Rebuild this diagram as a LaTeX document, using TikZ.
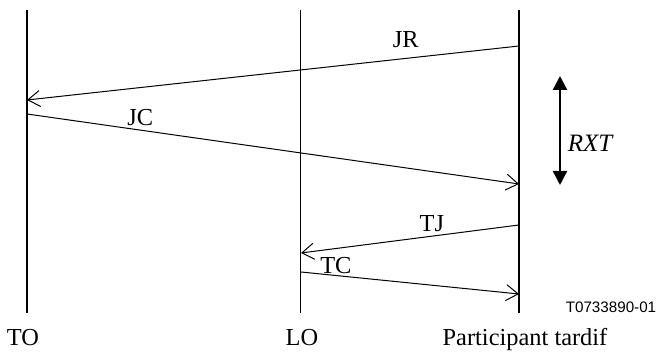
\documentclass[tikz,border=0pt]{standalone}
\usepackage{fontspec}
\setmainfont{Liberation Serif}
\setsansfont{Liberation Sans}
\usetikzlibrary{arrows.meta,positioning,calc}

\begin{document}
\begin{tikzpicture}[
            x=0.5pt, y=-0.5pt,
            every node/.style={font=\fontsize{12.2}{14}\selectfont, inner sep=1pt},
            party/.style={line width=1.3pt},
            msg/.style={line width=0.5pt, -{Straight Barb[length=6pt, width=8pt, line width=0.5pt]}},
            lbl/.style={above, inner sep=2pt},
        ]
            \useasboundingbox (0,0) rectangle (661,356);
            % time lines
            \coordinate (to-top) at (27,10);   \coordinate (to-bot) at (27,313);
            \coordinate (lo-top) at (301,10);  \coordinate (lo-bot) at (301,313);
            \coordinate (pt-top) at (519,10);  \coordinate (pt-bot) at (519,313);
            \draw[party] (to-top) -- (to-bot);
            \draw[line width=0.5pt] (lo-top) -- (lo-bot);
            \draw[party] (pt-top) -- (pt-bot);
            \node[anchor=base] (to) at (23,346) {TO};
            \node[anchor=base] (lo) at (302,346) {LO};
            \node[anchor=base] (pt) at (525,346) {Participant tardif};
            \node[font=\sffamily\fontsize{7.6}{9}\selectfont, anchor=base] (ref) at (611,313) {T0733890-01};
            % messages
            \coordinate (jr-s) at (519,46);  \coordinate (jr-e) at (27,100);
            \coordinate (jc-s) at (27,114);  \coordinate (jc-e) at (519,184);
            \coordinate (tj-s) at (519,225); \coordinate (tj-e) at (301,253);
            \coordinate (tc-s) at (301,272); \coordinate (tc-e) at (519,294);
            \draw[msg] (jr-s) -- node[lbl, pos=0.23, yshift=3pt]{JR} (jr-e);
            \draw[msg] (jc-s) -- node[lbl, pos=0.23, yshift=0pt]{JC} (jc-e);
            \draw[msg] (tj-s) -- node[lbl, pos=0.4, yshift=0pt]{TJ} (tj-e);
            \draw[msg] (tc-s) -- node[lbl, pos=0.16, yshift=-1.5pt]{TC} (tc-e);
            % retry timer
            \coordinate (rxt-top) at (560,76); \coordinate (rxt-bot) at (560,185);
            \draw[line width=1.2pt, {Triangle[length=7pt, width=7pt]}-{Triangle[length=7pt, width=7pt]}] (rxt-top) -- (rxt-bot);
            \node[font=\itshape\fontsize{12.5}{14}\selectfont] (rxt) at (590,143) {RXT};
        \end{tikzpicture}
\end{document}
